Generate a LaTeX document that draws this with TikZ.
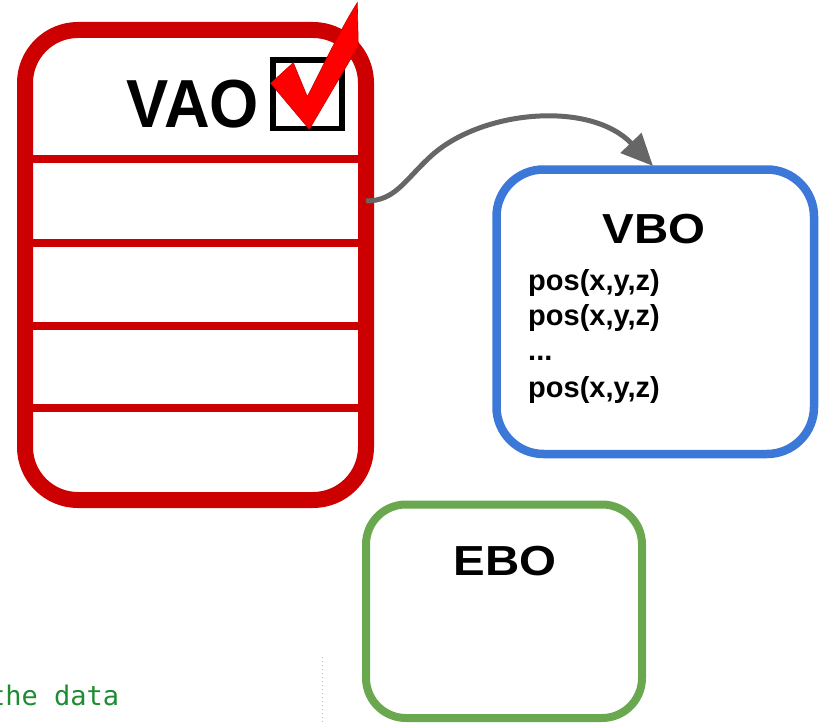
\documentclass[tikz,border=0pt]{standalone}
\usepackage{fontspec}
\usepackage{graphicx}
\setmainfont{Liberation Sans}
\newfontfamily\codefont{DejaVu Sans Mono}
\usetikzlibrary{arrows.meta}

\definecolor{vaored}{HTML}{CC0000}
\definecolor{checkred}{HTML}{FF0000}
\definecolor{vboblue}{HTML}{3C78D8}
\definecolor{ebogreen}{HTML}{6AA84F}
\definecolor{linkgray}{HTML}{666666}
\definecolor{codegreen}{RGB}{30,140,50}
\definecolor{guidegray}{HTML}{BBBBBB}

\tikzset{
  buffer/.style={draw, rectangle, inner sep=0pt, fill=none},
  vaobox/.style={buffer, draw=vaored, line width=16pt, rounded corners=53pt,
                 minimum width=341pt, minimum height=470pt},
  vbobox/.style={buffer, draw=vboblue, line width=8.5pt, rounded corners=47pt,
                 minimum width=317.5pt, minimum height=284.5pt},
  ebobox/.style={buffer, draw=ebogreen, line width=8pt, rounded corners=40pt,
                 minimum width=276pt, minimum height=213.5pt},
  slot/.style={inner sep=0pt, minimum width=341pt},
  rowline/.style={draw=vaored, line width=8pt},
  title/.style={inner sep=0pt, anchor=base, font=\bfseries},
  attr/.style={inner sep=0pt, anchor=base west, font=\bfseries\fontsize{29}{29}\selectfont},
  link/.style={draw=linkgray, line width=5pt,
               -{Triangle[length=32pt,width=28pt]}},
}

\begin{document}
\begin{tikzpicture}[x=1pt,y=-1pt]
  \useasboundingbox (0,0) rectangle (825,725);

  % vertex array object with its attribute slots
  \node[vaobox] (vao) at (195.5,265) {};
  \node[slot, minimum height=84pt] (slot1) at (195.5,201) {};
  \foreach \yy in {159,243,326,408}
    \draw[rowline] (vao.west |- 0,\yy) -- (vao.east |- 0,\yy);
  \node[title, font=\bfseries\fontsize{68}{68}\selectfont] (vaolabel) at (193,127)
    {\scalebox{0.93}[1]{VAO}};

  % bound-state checkbox
  \node[draw=black, line width=5.5pt, inner sep=0pt,
        minimum width=69pt, minimum height=68.5pt] (checkbox) at (307.5,94.25) {};
  \fill[checkred, draw={rgb,255:red,200;green,0;blue,0}, line width=0.6pt]
    (270.7,83.3) -- (293.3,62.7) -- (307.3,96.7)
    .. controls (322,68) and (340,30) .. (357.3,2.7)
    -- (358.3,46) -- (309.3,129.3) -- cycle;

  % vertex buffer object
  \node[vbobox] (vbo) at (655.25,311.75) {};
  \node[title, font=\bfseries\fontsize{42}{42}\selectfont] (vbolabel) at (654,243)
    {\scalebox{1.13}[1]{VBO}};
  \node[attr] (pos1) at (528,290) {pos(x,y,z)};
  \node[attr] (pos2) at (528,325) {pos(x,y,z)};
  \node[attr] (dots) at (528,360) {...};
  \node[attr] (pos3) at (528,397) {pos(x,y,z)};

  % element buffer object
  \node[ebobox] (ebo) at (504,611.25) {};
  \node[title, font=\bfseries\fontsize{42}{42}\selectfont] (ebolabel) at (505,575)
    {\scalebox{1.13}[1]{EBO}};

  % attribute slot pointing into the vertex buffer
  \coordinate (vbotop) at (653,166);
  \draw[link] (slot1.east) .. controls (395,201) and (405,180) .. (430,157)
    .. controls (480,110) and (590,100) .. (vbotop);

  % code fragment and editor guide line along the lower edge
  \node[inner sep=0pt, anchor=base west, text=codegreen,
        font=\codefont\fontsize{27}{27}\selectfont] (code) at (-11,705) {the data};
  \coordinate (guidetop) at (322,657);
  \coordinate (guidebot) at (322,725);
  \draw[guidegray, line width=1pt, dash pattern=on 1pt off 3pt] (guidetop) -- (guidebot);
\end{tikzpicture}
\end{document}
